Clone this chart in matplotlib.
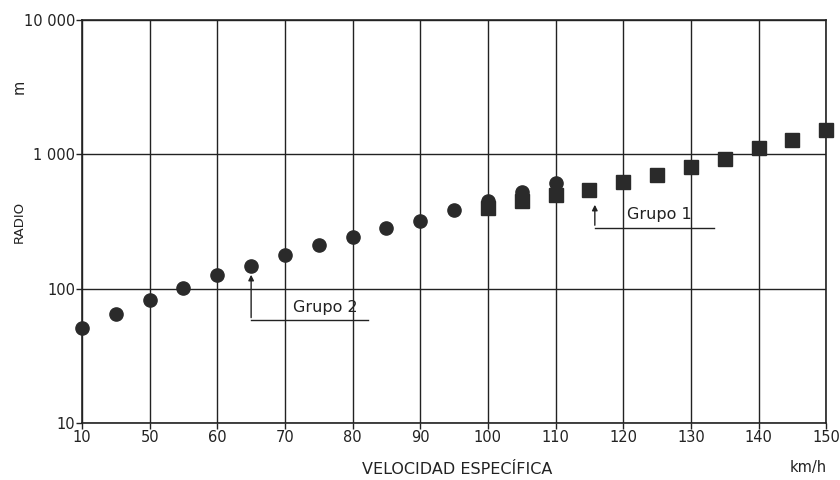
import matplotlib
matplotlib.use("Agg")
import matplotlib.pyplot as plt
from matplotlib.ticker import FixedLocator, FixedFormatter, NullLocator

plt.rcParams['font.family'] = ['DejaVu Sans']

# Grupo 2 (circulos)
vel_g2 = [40, 45, 50, 55, 60, 65, 70, 75, 80, 85, 90, 95, 100, 105, 110]
radio_g2 = [51, 65, 83, 101, 126, 147, 177, 213, 244, 283, 320, 386, 450, 524, 611]

# Grupo 1 (cuadrados)
vel_g1 = [100, 105, 110, 115, 120, 125, 130, 135, 140, 145, 150]
radio_g1 = [400, 450, 498, 542, 621, 700, 802, 919, 1107, 1290, 1530]

x_ticks = [40, 50, 60, 70, 80, 90, 100, 110, 120, 130, 140, 150]
x_labels = ["10", "50", "60", "70", "80", "90", "100", "110", "120", "130", "140", "150"]
y_ticks = [10, 100, 1000, 10000]
y_labels = ["10", "100", "1 000", "10 000"]

fig = plt.figure(figsize=(8.4, 4.8), dpi=100)
ax = fig.add_axes([0.0976, 0.119, 0.886, 0.839])

ax.set_yscale('log')
ax.set_xlim(40, 150)
ax.set_ylim(10, 10000)

ax.xaxis.set_major_locator(FixedLocator(x_ticks))
ax.xaxis.set_major_formatter(FixedFormatter(x_labels))
ax.yaxis.set_major_locator(FixedLocator(y_ticks))
ax.yaxis.set_major_formatter(FixedFormatter(y_labels))
ax.yaxis.set_minor_locator(NullLocator())

ax.grid(True, color='#222222', linewidth=1.0)
ax.set_axisbelow(True)
for s in ax.spines.values():
    s.set_color('#222222')
    s.set_linewidth(1.2)

ax.tick_params(axis='both', length=4, width=1, color='#222222',
               labelsize=10.5, labelcolor='#222222', pad=1)

ax.plot(vel_g2, radio_g2, 'o', color='#2a2a2a', markersize=9.5, clip_on=False, zorder=3)
ax.plot(vel_g1, radio_g1, 's', color='#2a2a2a', markersize=9.5, clip_on=False, zorder=3)

# anotaciones
ax.annotate('', xy=(65, 133), xytext=(65, 58),
            arrowprops=dict(arrowstyle='-|>', color='#222222', lw=1, mutation_scale=8))
ax.plot([65, 82.2], [58, 58], color='#222222', lw=1)
ax.text(76, 72, 'Grupo 2', ha='center', va='center', fontsize=11.5, color='#222222')

ax.annotate('', xy=(115.8, 442), xytext=(115.8, 283),
            arrowprops=dict(arrowstyle='-|>', color='#222222', lw=1, mutation_scale=8))
ax.plot([115.8, 133.4], [283, 283], color='#222222', lw=1)
ax.text(125.4, 354, 'Grupo 1', ha='center', va='center', fontsize=11.5, color='#222222')

fig.text(0.023, 0.819, 'm', rotation=90, ha='center', va='center', fontsize=10.5, color='#222222')
fig.text(0.023, 0.537, 'RADIO', rotation=90, ha='center', va='center', fontsize=9.5, color='#222222')
fig.text(0.544, 0.021, 'VELOCIDAD ESPECÍFICA', ha='center', va='center', fontsize=11.5, color='#222222')
fig.text(0.962, 0.027, 'km/h', ha='center', va='center', fontsize=10.5, color='#222222')

fig.savefig('out.png', dpi=100)
